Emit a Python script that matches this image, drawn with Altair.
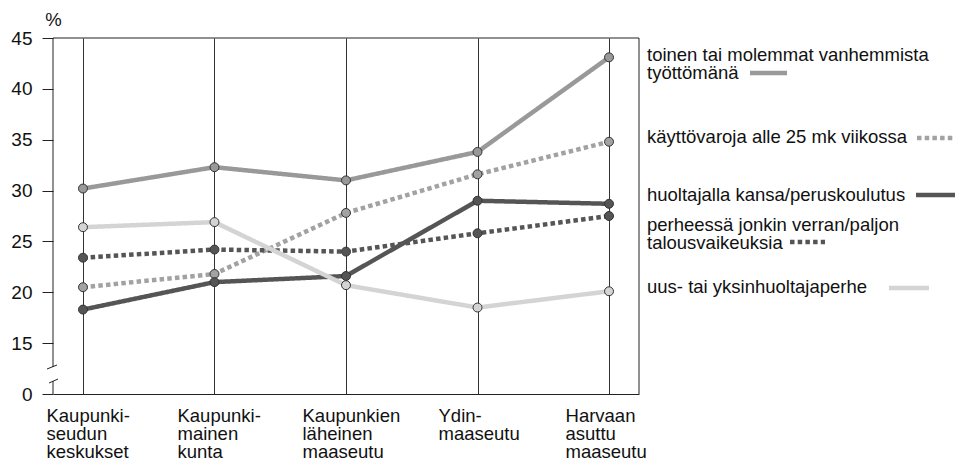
import altair as alt
import pandas as pd

categories = [
    "Kaupunki-|seudun|keskukset",
    "Kaupunki-|mainen|kunta",
    "Kaupunkien|läheinen|maaseutu",
    "Ydin-|maaseutu",
    "Harvaan|asuttu|maaseutu",
]
series_names = [
    "toinen tai molemmat vanhemmista\ntyöttömänä",
    "käyttövaroja alle 25 mk viikossa",
    "huoltajalla kansa/peruskoulutus",
    "perheessä jonkin verran/paljon\ntalousvaikeuksia",
    "uus- tai yksinhuoltajaperhe",
]
tyottomana = [30.2, 32.3, 31.0, 33.8, 43.1]
kayttovarat = [20.5, 21.8, 27.8, 31.6, 34.8]
kansakoulu = [18.3, 21.0, 21.6, 29.0, 28.7]
talousvaikeudet = [23.4, 24.2, 24.0, 25.8, 27.5]
yksinhuoltaja = [26.4, 26.9, 20.7, 18.5, 20.1]
series_values = [tyottomana, kayttovarat, kansakoulu, talousvaikeudet, yksinhuoltaja]

y_tick_values = [10, 15, 20, 25, 30, 35, 40, 45]
y_tick_labels = ["0", "15", "20", "25", "30", "35", "40", "45"]

# styles
colors = ["#999999", "#a2a2a2", "#555555", "#555555", "#d4d4d4"]
dot = [4.5, 3.2]
solid = [1, 0]
dashes = [solid, dot, solid, dot, solid]
FONT = "Liberation Sans"
FS = 18.5
W, H = 586, 356

rows = []
for name, vals in zip(series_names, series_values):
    for c, v in zip(categories, vals):
        rows.append({"series": name, "cat": c, "value": v})
df = pd.DataFrame(rows)

label_expr = "{" + ",".join(f"{v}:'{l}'" for v, l in zip(y_tick_values, y_tick_labels)) + "}[datum.value]"

offsets = [-37, -37.5, -44, -39.5, -44]
x_axis = alt.Axis(
    title=None,
    labelExpr="split(datum.label, '|')",
    labelAngle=0,
    labelAlign="left",
    labelBaseline="top",
    labelOffset={
        "condition": [
            {"test": f"datum.value === '{c}'", "value": o} for c, o in zip(categories, offsets)
        ],
        "value": -40,
    },
    labelPadding=12,
    labelFont=FONT,
    labelFontSize=FS,
    labelLineHeight=18,
    labelColor="#111",
    ticks=False,
    domain=True,
    domainColor="#222",
    domainWidth=1,
    grid=True,
    gridColor="#333",
    gridWidth=1,
    labelOverlap=False,
)
y_axis = alt.Axis(
    values=y_tick_values,
    labelExpr=label_expr,
    labelFont=FONT,
    labelFontSize=19,
    labelColor="#111",
    labelPadding=10,
    tickSize=11,
    tickColor="#222",
    tickWidth=1,
    domain=False,
    grid=False,
    title="%",
    titleAngle=0,
    titleX=0,
    titleY=-13,
    titleAlign="center",
    titleBaseline="alphabetic",
    titleFont=FONT,
    titleFontSize=FS,
    titleFontWeight="normal",
    titleColor="#111",
)

x_enc = alt.X("cat:N", sort=categories, scale=alt.Scale(type="point", padding=0.228), axis=x_axis)
y_enc = alt.Y("value:Q", scale=alt.Scale(domain=[10, 45], nice=False, zero=False), axis=y_axis)
color_enc = alt.Color("series:N", scale=alt.Scale(domain=series_names, range=colors), legend=None)

lines = alt.Chart(df).mark_line(strokeWidth=4.5, strokeCap="butt").encode(
    x=x_enc,
    y=y_enc,
    color=color_enc,
    strokeDash=alt.StrokeDash("series:N", scale=alt.Scale(domain=series_names, range=dashes), legend=None),
    detail="series:N",
)
points = alt.Chart(df).mark_circle(size=80, opacity=1, stroke="#333", strokeWidth=1).encode(
    x=alt.X("cat:N", sort=categories),
    y="value:Q",
    color=color_enc,
)

one = pd.DataFrame({"k": [0]})
# frame pieces (left axis with a break)
frame = [
    alt.Chart(one).mark_rule(color="#222", strokeWidth=1).encode(x=alt.value(0), x2=alt.value(W), y=alt.value(0)),
    alt.Chart(one).mark_rule(color="#222", strokeWidth=1).encode(x=alt.value(W), y=alt.value(0), y2=alt.value(H)),
    alt.Chart(one).mark_rule(color="#222", strokeWidth=1).encode(x=alt.value(0), y=alt.value(0), y2=alt.value(329)),
    alt.Chart(one).mark_rule(color="#222", strokeWidth=1).encode(x=alt.value(0), y=alt.value(343), y2=alt.value(H)),
    alt.Chart(one).mark_rule(color="#222", strokeWidth=1).encode(x=alt.value(-6), x2=alt.value(4), y=alt.value(331), y2=alt.value(327)),
    alt.Chart(one).mark_rule(color="#222", strokeWidth=1).encode(x=alt.value(-4), x2=alt.value(5), y=alt.value(345), y2=alt.value(341)),
]

# custom legend
legend_text_y = [23, 105, 163, 193, 255]
legend_sample = [(697, 734, 35), (864, 902, 100), (863, 902, 157), (737, 772, 204), (836, 876, 250)]
legend_layers = []
for i, name in enumerate(series_names):
    d = pd.DataFrame({"series": [name]})
    legend_layers.append(
        alt.Chart(d).mark_text(
            align="left", baseline="alphabetic", font=FONT, fontSize=FS, lineBreak="\n",
            lineHeight=18, color="#111",
        ).encode(x=alt.value(594), y=alt.value(legend_text_y[i]), text="series:N")
    )
    x1, x2, yy = legend_sample[i]
    legend_layers.append(
        alt.Chart(d).mark_rule(strokeWidth=4.5, strokeCap="butt", strokeDash=dashes[i], color=colors[i]).encode(
            x=alt.value(x1), x2=alt.value(x2), y=alt.value(yy)
        )
    )

chart = alt.layer(lines, points, *frame, *legend_layers).properties(
    width=W,
    height=H,
    autosize=alt.AutoSizeParams(type="none"),
    padding={"left": 53, "top": 38, "right": 958 - 53 - W, "bottom": 460 - 38 - H},
    background="white",
).configure_view(stroke=None)

chart.save("out.html", embed_options={"renderer": "svg", "actions": False})
